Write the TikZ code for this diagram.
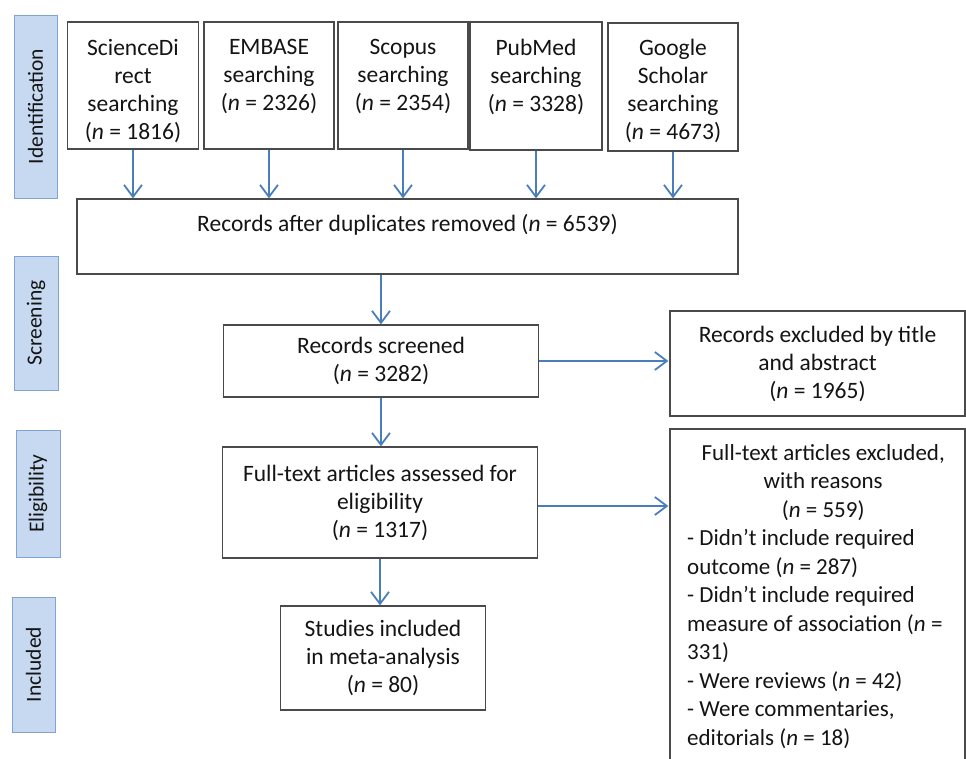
\documentclass[tikz,border=0pt]{standalone}
\usepackage{fontspec}
\setmainfont{Carlito}
\usetikzlibrary{arrows.meta,calc}
\definecolor{arrowblue}{HTML}{4A7EBB}
\definecolor{sidefill}{HTML}{C6D9F1}
\definecolor{sidedraw}{HTML}{7FA3D3}
\definecolor{boxdraw}{HTML}{4A4A4A}
\definecolor{txt}{HTML}{141414}
\begin{document}
\begin{tikzpicture}[x=1pt,y=-1pt,
  box/.style={draw=boxdraw,line width=1.3pt,fill=white,inner sep=0pt},
  lbl/.style={font=\fontsize{23.5}{28}\selectfont,text=txt,align=center,inner sep=0pt},
  side/.style={draw=sidedraw,fill=sidefill,line width=1pt,inner sep=0pt},
  sidetext/.style={font=\fontsize{21.5}{26}\selectfont,text=txt,rotate=90,inner sep=0pt},
  arr/.style={draw=arrowblue,line width=1.8pt,-{Straight Barb[length=12pt,width=18pt]}}
]
\useasboundingbox (0,0) rectangle (966,758);
\clip (0,0) rectangle (966,758);

% side labels
\node[side,minimum width=43pt,minimum height=183pt] (sid) at (35.5,106.5) {};
\node[sidetext] (sidt) at (sid.center) {Identification};
\node[side,minimum width=44pt,minimum height=134pt] (sscr) at (36,323) {};
\node[sidetext] (sscrt) at (sscr.center) {Screening};
\node[side,minimum width=44pt,minimum height=127pt] (seli) at (38,493.5) {};
\node[sidetext] (selit) at (seli.center) {Eligibility};
\node[side,minimum width=43pt,minimum height=135pt] (sinc) at (33.5,664.5) {};
\node[sidetext] (sinct) at (sinc.center) {Included};

% top boxes
\node[box,minimum width=131pt,minimum height=127pt] (sd) at (133,85.5) {};
\node[box,minimum width=130pt,minimum height=127pt] (em) at (269,85.5) {};
\node[box,minimum width=130pt,minimum height=127pt] (sc) at (403,85.5) {};
\node[box,minimum width=132pt,minimum height=128pt] (pm) at (536,86) {};
\node[box,minimum width=130pt,minimum height=128pt] (gs) at (673,87) {};
\node[lbl,anchor=north] (sdt) at (133,39) {ScienceDi\\rect\\searching\\(\textit{n} = 1816)};
\node[lbl,anchor=north] (emt) at (269,39) {EMBASE\\searching\\(\textit{n} = 2326)};
\node[lbl,anchor=north] (sct) at (403,39) {Scopus\\searching\\(\textit{n} = 2354)};
\node[lbl,anchor=north] (pmt) at (536,39) {PubMed\\searching\\(\textit{n} = 3328)};
\node[lbl,anchor=north] (gst) at (673,39) {Google\\Scholar\\searching\\(\textit{n} = 4673)};

% duplicates
\node[box,minimum width=661pt,minimum height=75pt] (dup) at (407.5,236.5) {};
\node[lbl,anchor=north] (dupt) at (407.5,214) {Records after duplicates removed (\textit{n} = 6539)};

% screening
\node[box,minimum width=315pt,minimum height=72pt,lbl] (scr) at (381,361) {Records screened\\(\textit{n} = 3282)};
\node[box,minimum width=295pt,minimum height=105pt,lbl] (exa) at (817.5,363.5) {Records excluded by title\\and abstract\\(\textit{n} = 1965)};

% eligibility
\node[box,minimum width=315pt,minimum height=111pt,lbl] (ass) at (380,502.5) {Full-text articles assessed for\\eligibility\\(\textit{n} = 1317)};
\node[box,minimum width=295pt,minimum height=341pt] (exb) at (817.5,599.5) {};
\node[anchor=north west,inner sep=0pt,text width=272pt,text=txt,font=\fontsize{23}{28.5}\selectfont] (exbt) at (687,444)
 {\spaceskip=\fontdimen2\font\relax
  {\centering Full-text articles excluded,\\with reasons\\(\textit{n} = 559)\par}
  \raggedright
  - Didn’t include required\\
  outcome (\textit{n} = 287)\\
  - Didn’t include required\\
  measure of association (\textit{n} =\\
  331)\\
  - Were reviews (\textit{n} = 42)\\
  - Were commentaries,\\
  editorials (\textit{n} = 18)\par};

% included
\node[box,minimum width=205pt,minimum height=104pt,lbl] (inc) at (383,658) {Studies included\\in meta-analysis\\(\textit{n} = 80)};

% arrows
\foreach \b in {sd,em,sc,pm,gs}{
  \draw[arr] (\b.south) -- (\b.south |- dup.north);
}
\draw[arr] (dup.south -| scr.north) -- (scr.north);
\draw[arr] (scr.east) -- ([xshift=-1pt]exa.west |- scr.east);
\draw[arr] (scr.south) -- (scr.south |- ass.north);
\draw[arr] ([yshift=-3.5pt]ass.east) -- ([xshift=-1pt,yshift=-3.5pt]exb.west |- ass.east);
\draw[arr] (ass.south) -- (ass.south |- inc.north);
\end{tikzpicture}
\end{document}
